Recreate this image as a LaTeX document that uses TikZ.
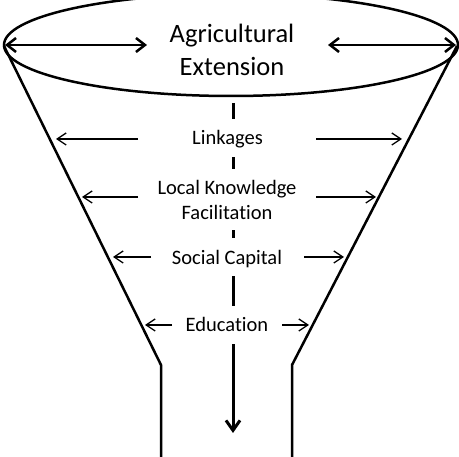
\documentclass[tikz,border=0pt]{standalone}
\usepackage{fontspec}
\setmainfont{Carlito}[Ligatures=NoCommon]
\usetikzlibrary{arrows.meta,shapes.geometric}
\begin{document}
\begin{tikzpicture}[x=1pt,y=-1pt,
  lbl/.style={fill=white, inner xsep=2pt, inner ysep=8.6pt, align=center,
    font=\fontsize{20.5}{25}\selectfont, text height=17.4pt, text depth=3.4pt},
  lbltwo/.style={fill=white, inner xsep=2pt, inner ysep=11pt, align=center,
    font=\fontsize{20.5}{25}\selectfont},
  smallarrow/.style={line width=1.3pt, -{Straight Barb[length=9pt,width=12pt]}},
  bigline/.style={line width=2.5pt, line join=round},
  bigarrow/.style={line width=2.5pt, {Straight Barb[length=9pt,width=14pt]}-{Straight Barb[length=9pt,width=14pt]}},
  downarrow/.style={line width=3pt, -{Straight Barb[length=10pt,width=14pt]}}]
\useasboundingbox (0,0) rectangle (459,457);
\clip (0,0) rectangle (459,457);
% funnel
\coordinate (fl0) at (4,46);
\coordinate (fl1) at (161,365);
\coordinate (fl2) at (161,470);
\coordinate (fr0) at (457,46);
\coordinate (fr1) at (292,365);
\coordinate (fr2) at (292,470);
\draw[bigline] (fl0) -- (fl1) -- (fl2);
\draw[bigline] (fr0) -- (fr1) -- (fr2);
% ellipse
\node[draw, line width=2.5pt, ellipse, minimum width=454pt, minimum height=102pt, inner sep=0pt] (top) at (231,45) {};
% title
\node[font=\fontsize{26.5}{33}\selectfont, align=center] (title) at (232,49.5) {Agricultural\\Extension};
% top arrows
\coordinate (tl1) at (5,45);
\coordinate (tl2) at (147,45);
\coordinate (tr1) at (328,45);
\coordinate (tr2) at (456,45);
\draw[bigarrow] (tl1) -- (tl2);
\draw[bigarrow] (tr1) -- (tr2);
% center arrow
\coordinate (c0) at (233,103);
\coordinate (c1) at (233,433);
\draw[downarrow] (c0) -- (c1);
% labels
\node[lbl] (link) at (227.5,138) {Linkages};
\node[lbltwo] (lk) at (227,199.5) {Local Knowledge\\Facilitation};
\node[lbl] (sc) at (227,257.5) {Social Capital};
\node[lbl] (ed) at (227,325) {Education};
% side arrows
\coordinate (a1l) at (138,139); \coordinate (a1lt) at (56,139);
\coordinate (a1r) at (316,139); \coordinate (a1rt) at (402,139);
\coordinate (a2l) at (138,197); \coordinate (a2lt) at (82,197);
\coordinate (a2r) at (316,197); \coordinate (a2rt) at (376,197);
\coordinate (a3l) at (151,257); \coordinate (a3lt) at (113,257);
\coordinate (a3r) at (304,257); \coordinate (a3rt) at (344,257);
\coordinate (a4l) at (172,325); \coordinate (a4lt) at (145,325);
\coordinate (a4r) at (282,325); \coordinate (a4rt) at (309,325);
\draw[smallarrow] (a1l) -- (a1lt);
\draw[smallarrow] (a1r) -- (a1rt);
\draw[smallarrow] (a2l) -- (a2lt);
\draw[smallarrow] (a2r) -- (a2rt);
\draw[smallarrow] (a3l) -- (a3lt);
\draw[smallarrow] (a3r) -- (a3rt);
\draw[smallarrow] (a4l) -- (a4lt);
\draw[smallarrow] (a4r) -- (a4rt);
\end{tikzpicture}
\end{document}
